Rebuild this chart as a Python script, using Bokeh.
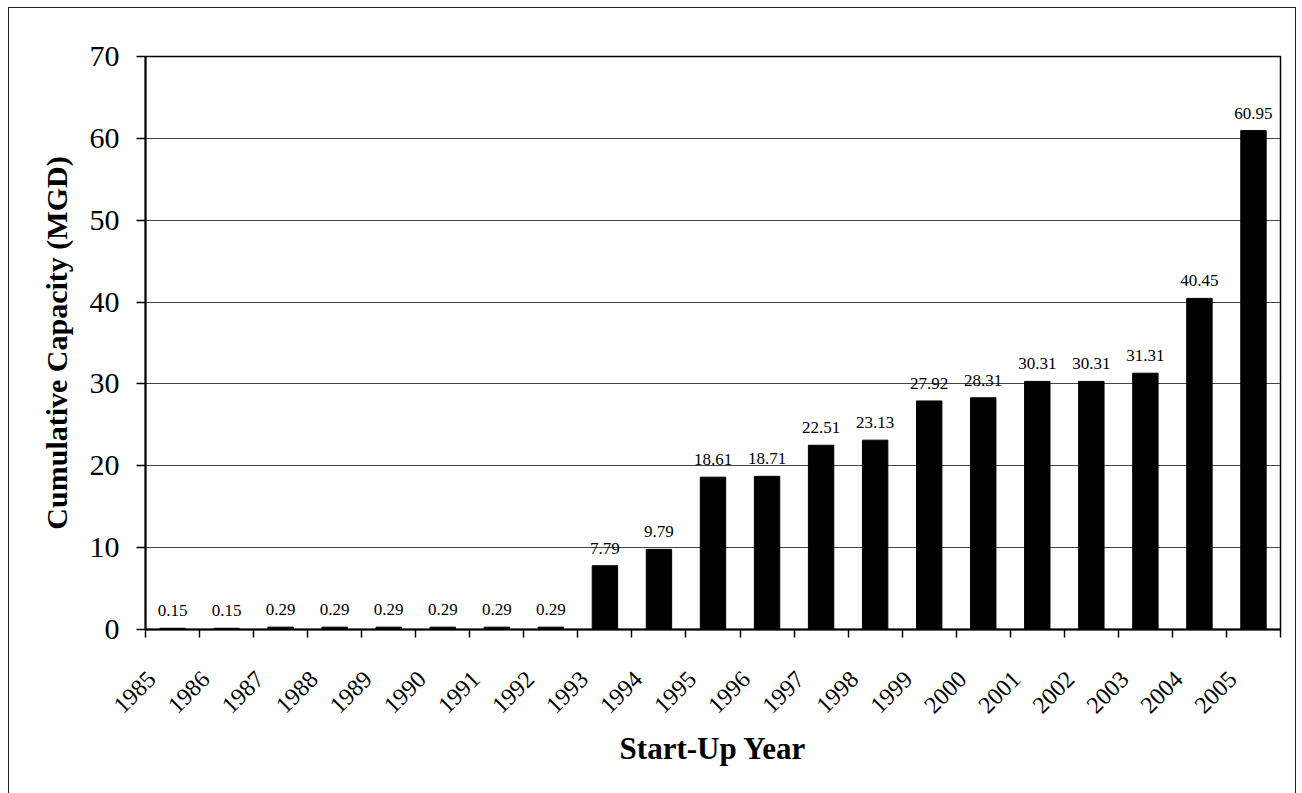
from bokeh.plotting import figure
from bokeh.models import Range1d, FixedTicker, ColumnDataSource, LabelSet, NumeralTickFormatter
from bokeh.embed import file_html
from bokeh.resources import INLINE
import math

# Cumulative capacity by start-up year
years = list(range(1985, 2006))
capacity = [0.15, 0.15, 0.29, 0.29, 0.29, 0.29, 0.29, 0.29, 7.79, 9.79,
            18.61, 18.71, 22.51, 23.13, 27.92, 28.31, 30.31, 30.31, 31.31,
            40.45, 60.95]
labels = ["0.15", "0.15", "0.29", "0.29", "0.29", "0.29", "0.29", "0.29",
          "7.79", "9.79", "18.61", "18.71", "22.51", "23.13", "27.92",
          "28.31", "30.31", "30.31", "31.31", "40.45", "60.95"]
y_ticks = [0, 10, 20, 30, 40, 50, 60, 70]

SERIF = "Liberation Serif"
LABEL_SHIFT = 0.38  # slanted year labels sit a little left of the bar centre

source = ColumnDataSource(data=dict(year=years, capacity=capacity, label=labels))

p = figure(width=1288, height=800, output_backend="svg", toolbar_location=None,
           x_range=Range1d(years[0] - 0.5, years[-1] + 0.5),
           y_range=Range1d(0, 70),
           min_border_left=136, min_border_top=48, min_border_right=17,
           min_border_bottom=179)
p.margin = (7, 0, 0, 8)
p.styles = {"border": "1px solid #222", "box-sizing": "border-box"}

p.vbar(x="year", top="capacity", width=0.47, source=source,
       fill_color="black", line_color="black")

# value labels above the bars
p.add_layout(LabelSet(x="year", y="capacity", text="label", source=source,
                      text_align="center", text_baseline="bottom", y_offset=12,
                      text_font=SERIF, text_font_size="17px", text_color="black"))

# x axis: slanted year labels, tick marks at the boundaries between years
p.xaxis.ticker = FixedTicker(ticks=[y - LABEL_SHIFT for y in years],
                             minor_ticks=[y - 0.5 for y in years] + [years[-1] + 0.5])
p.xaxis.formatter = NumeralTickFormatter(format="0")
p.xaxis.major_tick_line_color = None
p.xaxis.major_tick_in = 0
p.xaxis.major_tick_out = 0
p.xaxis.minor_tick_in = 0
p.xaxis.minor_tick_out = 8
p.xaxis.minor_tick_line_color = "black"
p.xaxis.minor_tick_line_width = 1.5
p.xaxis.major_label_orientation = math.pi / 4
p.xaxis.major_label_text_font = SERIF
p.xaxis.major_label_text_font_size = "24px"
p.xaxis.major_label_standoff = 38
p.xaxis.axis_label = "Start-Up Year"
p.xaxis.axis_label_text_font = SERIF
p.xaxis.axis_label_text_font_style = "bold"
p.xaxis.axis_label_text_font_size = "31px"
p.xaxis.axis_label_standoff = 8

p.yaxis.ticker = FixedTicker(ticks=y_ticks, minor_ticks=[])
p.yaxis.major_tick_in = 0
p.yaxis.major_tick_out = 9
p.yaxis.major_tick_line_width = 1.5
p.yaxis.major_label_text_font = SERIF
p.yaxis.major_label_text_font_size = "30px"
p.yaxis.major_label_standoff = 17
p.yaxis.axis_label = "Cumulative Capacity (MGD)"
p.yaxis.axis_label_text_font = SERIF
p.yaxis.axis_label_text_font_style = "bold"
p.yaxis.axis_label_text_font_size = "30px"
p.yaxis.axis_label_standoff = 14

for ax in (p.xaxis, p.yaxis):
    ax.axis_line_color = "black"
    ax.axis_line_width = 2
    ax.major_label_text_color = "black"
    ax.axis_label_text_color = "black"

p.xgrid.grid_line_color = None
p.ygrid.ticker = FixedTicker(ticks=y_ticks)
p.ygrid.grid_line_color = "#444444"
p.ygrid.grid_line_width = 1

p.outline_line_color = "black"
p.outline_line_width = 1.5
p.background_fill_color = "white"
p.border_fill_color = "white"

open("out.html", "w").write(file_html(p, INLINE))
